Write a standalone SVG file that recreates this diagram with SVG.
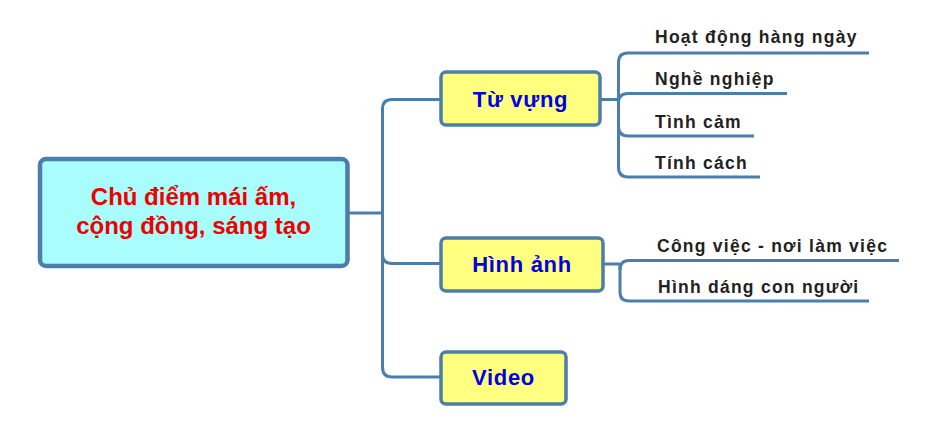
<svg xmlns="http://www.w3.org/2000/svg" width="937" height="424" viewBox="0 0 937 424">
<style>
.c{fill:none;stroke:#4b7eab;stroke-width:3;stroke-linecap:butt;stroke-linejoin:round}
.box{stroke:#4b7eab;stroke-width:3.5}
.root{fill:#a9fdfd;stroke-width:4.5}
.main{fill:#ffff80}
.t{font-family:"Liberation Sans",Arial,sans-serif;font-weight:bold;text-anchor:middle}
.rt{fill:#ee0000;font-size:24px}
.mt{fill:#0000e0;font-size:22px;letter-spacing:0.7px}
.lt{font-family:"Liberation Sans",Arial,sans-serif;font-weight:bold;font-size:17.5px;fill:#222222;letter-spacing:1.25px}
</style>
<rect width="937" height="424" fill="#ffffff"/>
<g id="connectors">
<path class="c" d="M349 213 H382.5"/>
<path class="c" d="M382.5 213 V109 Q382.5 99.5 392 99.5 H440"/>
<path class="c" d="M382.5 213 V254 Q382.5 263.5 392 263.5 H440"/>
<path class="c" d="M382.5 213 V367 Q382.5 377 392 377 H440"/>
<path class="c" d="M601 99.5 H618.5"/>
<path class="c" d="M618.5 99.5 V62.5 Q618.5 53 628 53 H869"/>
<path class="c" d="M618.5 103 Q618.5 93.5 628 93.5 H787"/>
<path class="c" d="M618.5 99.5 V126 Q618.5 136 628 136 H754"/>
<path class="c" d="M618.5 99.5 V167 Q618.5 177 628 177 H760"/>
<path class="c" d="M604 264 H620"/>
<path class="c" d="M620 270 Q620 260.5 629 260.5 H899"/>
<path class="c" d="M620 264 V292 Q620 301 629 301 H869"/>
</g>
<g id="root">
<rect class="box root" x="40" y="159" width="307.5" height="107" rx="6"/>
<text class="t rt" x="193.5" y="205">Chủ điểm mái ấm,</text>
<text class="t rt" x="193.5" y="234">cộng đồng, sáng tạo</text>
</g>
<g id="tu-vung">
<rect class="box main" x="441" y="72" width="159" height="53" rx="5"/>
<text class="t mt" x="520.5" y="107">Từ vựng</text>
</g>
<g id="hinh-anh">
<rect class="box main" x="441" y="238" width="162" height="53" rx="5"/>
<text class="t mt" x="522" y="272">Hình ảnh</text>
</g>
<g id="video">
<rect class="box main" x="441" y="352" width="125" height="52" rx="5"/>
<text class="t mt" x="503.5" y="385">Video</text>
</g>
<g id="hoat-dong"><text class="lt" x="655" y="43">Hoạt động hàng ngày</text></g>
<g id="nghe-nghiep"><text class="lt" x="655" y="85">Nghề nghiệp</text></g>
<g id="tinh-cam"><text class="lt" x="655" y="127.5">Tình cảm</text></g>
<g id="tinh-cach"><text class="lt" x="655" y="168.5">Tính cách</text></g>
<g id="cong-viec"><text class="lt" x="657" y="251.5">Công việc - nơi làm việc</text></g>
<g id="hinh-dang"><text class="lt" x="658" y="293">Hình dáng con người</text></g>
</svg>
